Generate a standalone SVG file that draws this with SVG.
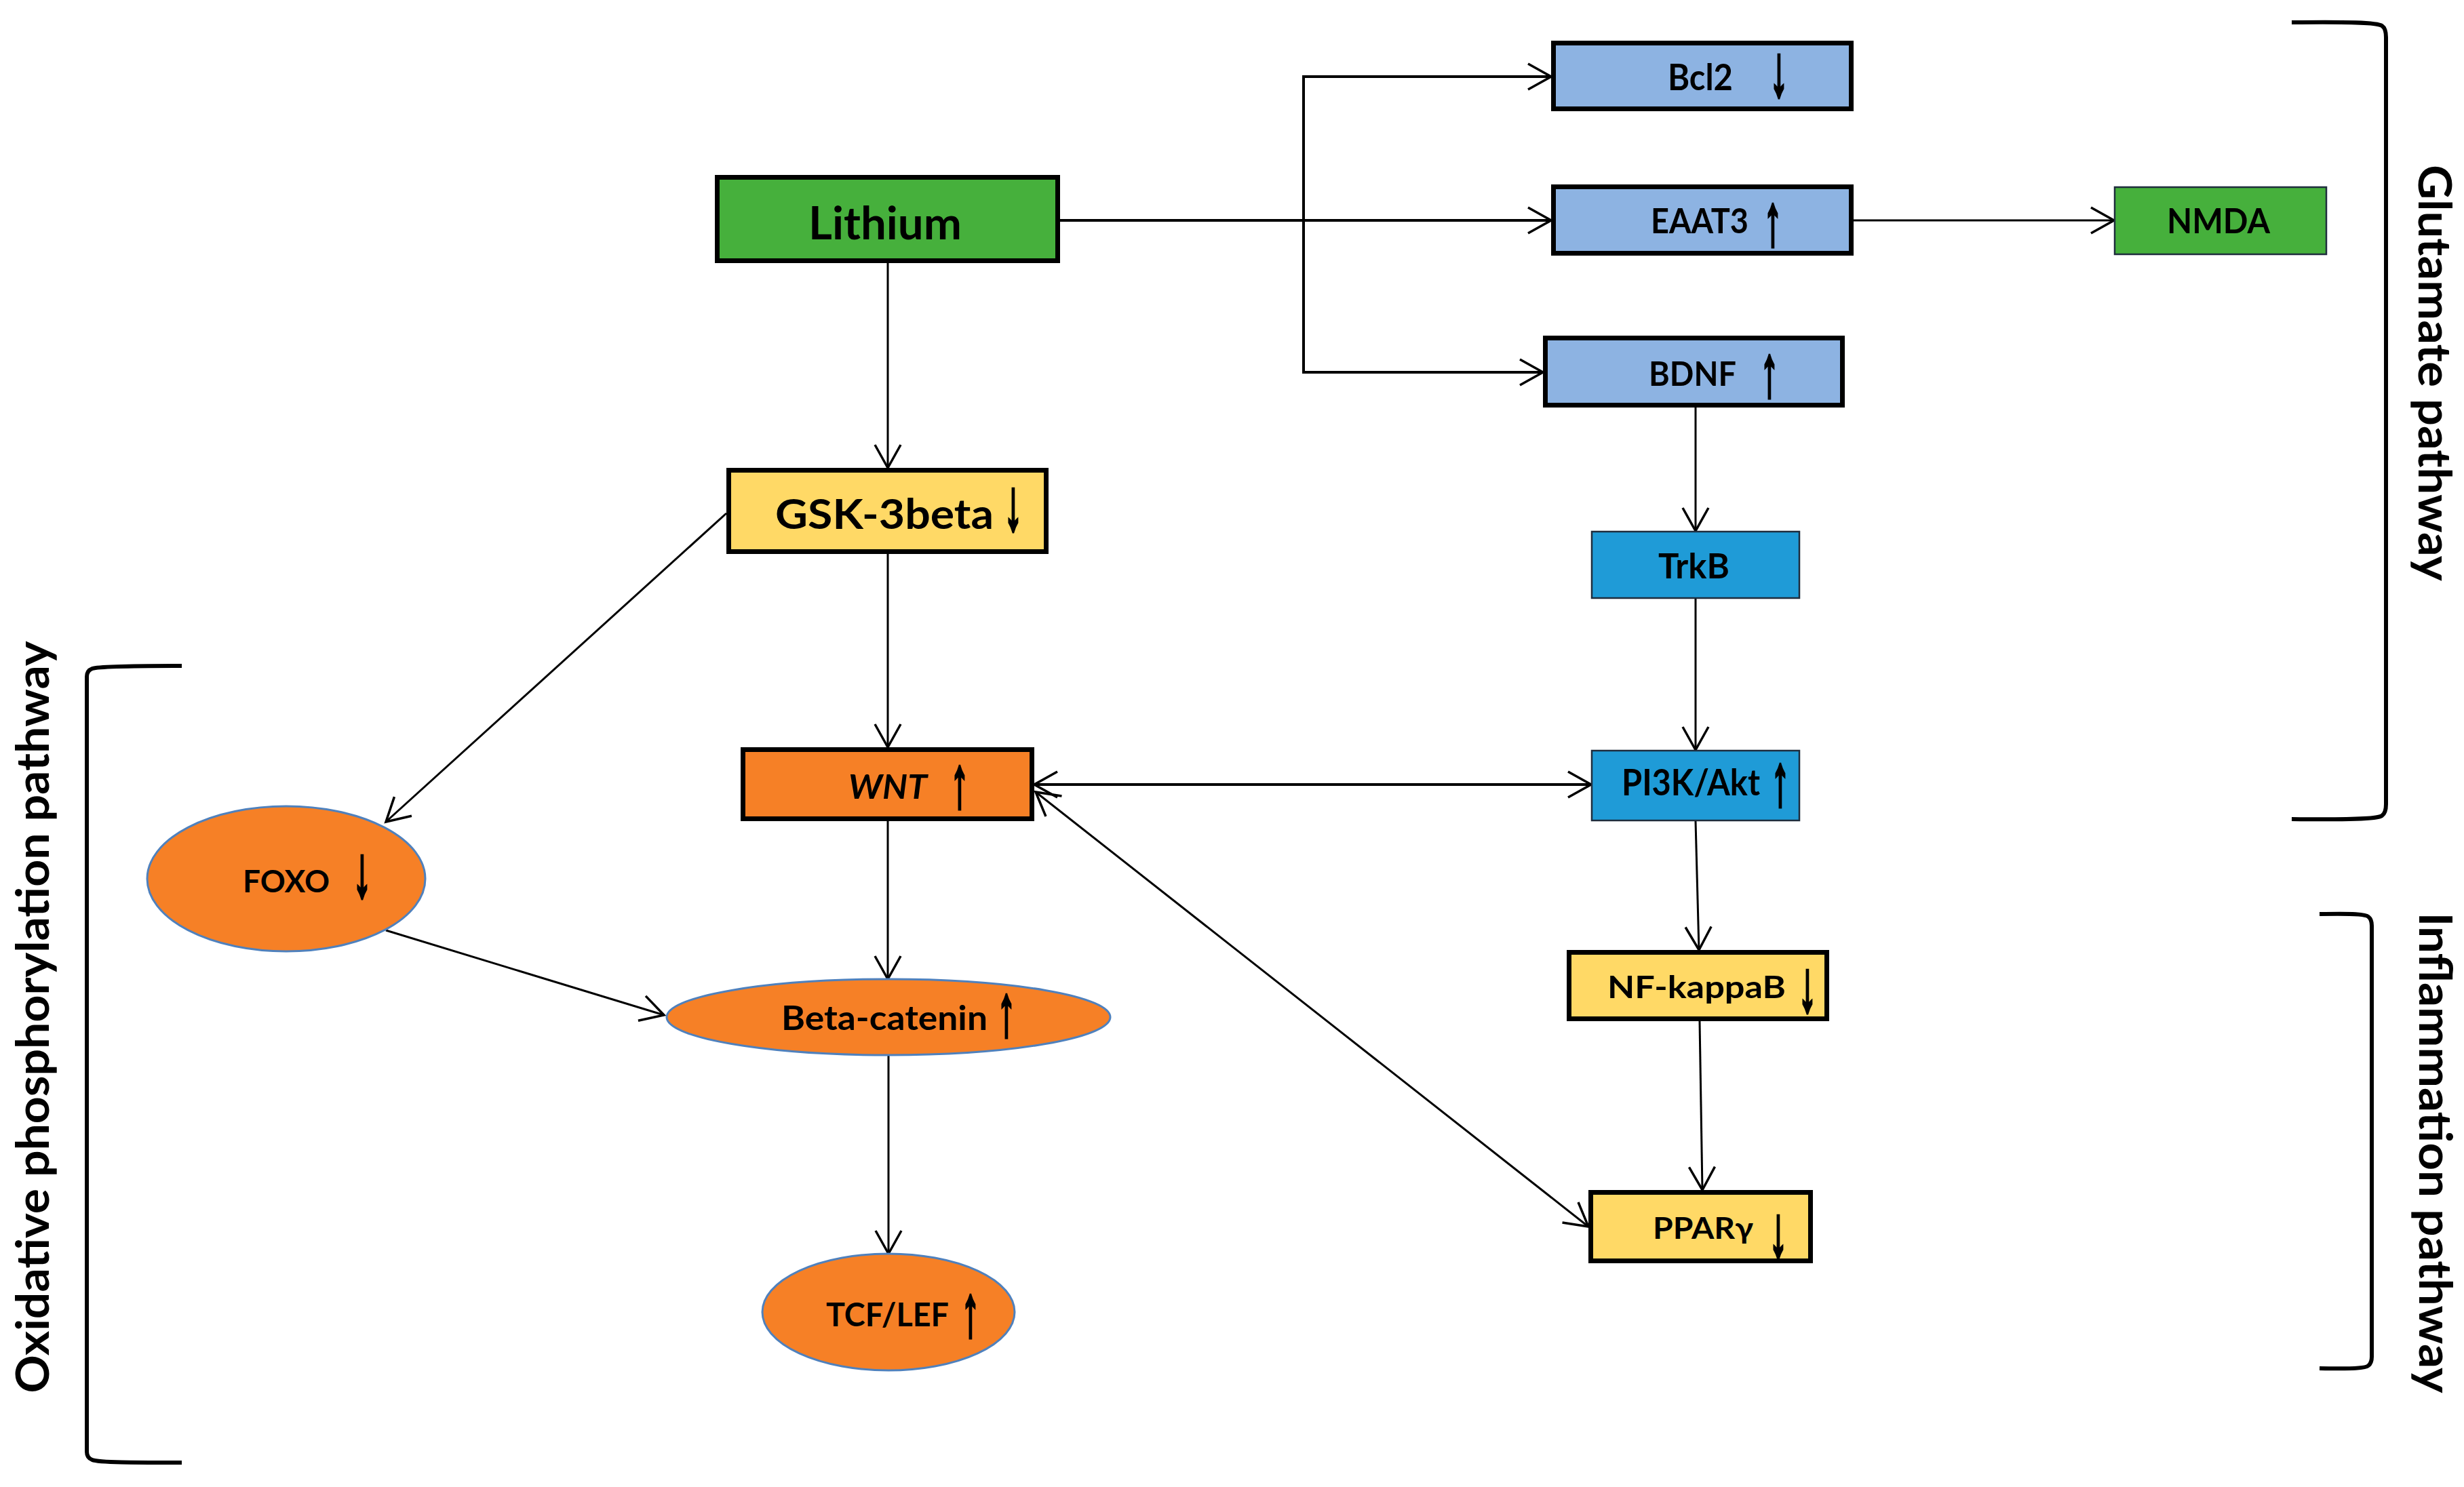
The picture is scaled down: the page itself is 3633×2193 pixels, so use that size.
<svg xmlns="http://www.w3.org/2000/svg" width="3633" height="2193" viewBox="0 0 3633 2193">
<style>
.thick{stroke:#000;stroke-width:7}
.thin{stroke:#1f2d3d;stroke-width:2.5}
.ell{stroke:#4f81bd;stroke-width:3}
.green{fill:#46b03c}
.lblue{fill:#8db3e2}
.dblue{fill:#1f9bd7}
.yellow{fill:#ffd966}
.orange{fill:#f68026}
.lbl{font-family:Lato,"Liberation Sans",sans-serif;font-weight:700;fill:#000;text-anchor:middle}
.arr{font-family:"Liberation Sans","DejaVu Sans",sans-serif;font-weight:700;fill:#000;stroke:#000;stroke-width:5;stroke-linejoin:miter;text-anchor:middle;dominant-baseline:central;font-size:106px}
.side{font-family:Lato,"Liberation Sans",sans-serif;font-weight:700;fill:#000;text-anchor:middle;font-size:66px}
.con{fill:none;stroke:#000;stroke-width:3;marker-end:url(#ah)}
.heavy{stroke-width:4}
.bi{marker-start:url(#ah)}
.br{fill:none;stroke:#000;stroke-width:6}
</style>
<defs>
<marker id="ah" viewBox="-40 -25 45 50" refX="0" refY="0" markerWidth="45" markerHeight="50" markerUnits="userSpaceOnUse" orient="auto-start-reverse">
<path d="M-34,-19 L0,0 L-34,19" fill="none" stroke="#000" stroke-width="3.5"/>
</marker>
</defs>
<rect width="3633" height="2193" fill="#fff"/>

<g id="connectors">
<path class="con heavy" d="M1563,325 H2287"/>
<path class="con heavy bi" d="M2287,113 H1922 V549 H2275"/>
<path class="con" d="M2733,325 H3117"/>
<path class="con" d="M1309,388 V690"/>
<path class="con" d="M1309,817 V1102"/>
<path class="con" d="M1071,757 L569,1212"/>
<path class="con" d="M1309,1211 V1444"/>
<path class="con" d="M569,1372 L979,1497"/>
<path class="con" d="M1310,1556 V1849"/>
<path class="con heavy bi" d="M1525,1157 H2346"/>
<path class="con bi" d="M1527,1168 L2342,1809"/>
<path class="con" d="M2500,601 V783"/>
<path class="con" d="M2500,883 V1106"/>
<path class="con" d="M2500,1211 L2505,1401"/>
<path class="con" d="M2506,1506 L2510,1755"/>
</g>

<g id="lithium">
<rect class="thick green" x="1057.5" y="261.5" width="502" height="123"/>
<text class="lbl" x="1305" y="353" font-size="66" textLength="226" lengthAdjust="spacingAndGlyphs">Lithium</text>
</g>
<g id="bcl2">
<rect class="thick lblue" x="2290.5" y="63.5" width="439" height="97"/>
<text class="lbl" x="2507" y="133" font-size="53" textLength="96" lengthAdjust="spacingAndGlyphs">Bcl2</text>
<text class="arr" transform="translate(2623,104) scale(0.5,1)">↓</text>
</g>
<g id="eaat3">
<rect class="thick lblue" x="2290.5" y="275.5" width="439" height="98"/>
<text class="lbl" x="2506" y="344" font-size="51" textLength="144" lengthAdjust="spacingAndGlyphs">EAAT3</text>
<text class="arr" transform="translate(2614,324) scale(0.5,1)">↑</text>
</g>
<g id="bdnf">
<rect class="thick lblue" x="2278.5" y="498.5" width="438" height="99"/>
<text class="lbl" x="2495.5" y="569" font-size="50" textLength="129" lengthAdjust="spacingAndGlyphs">BDNF</text>
<text class="arr" transform="translate(2609,547) scale(0.5,1)">↑</text>
</g>
<g id="nmda">
<rect class="thin green" x="3118" y="276" width="312" height="99"/>
<text class="lbl" x="3271" y="344" font-size="52" textLength="152" lengthAdjust="spacingAndGlyphs">NMDA</text>
</g>
<g id="trkb">
<rect class="thin dblue" x="2347" y="784" width="306" height="98"/>
<text class="lbl" x="2497.5" y="853" font-size="52" textLength="105" lengthAdjust="spacingAndGlyphs">TrkB</text>
</g>
<g id="pi3k">
<rect class="thin dblue" x="2347" y="1107" width="306" height="103"/>
<text class="lbl" x="2493" y="1173" font-size="54" textLength="204" lengthAdjust="spacingAndGlyphs">PI3K/Akt</text>
<text class="arr" transform="translate(2625,1150) scale(0.5,1)">↑</text>
</g>
<g id="gsk3beta">
<rect class="thick yellow" x="1074.5" y="693.5" width="468" height="120"/>
<text class="lbl" x="1304" y="780" font-size="62" textLength="322" lengthAdjust="spacingAndGlyphs">GSK-3beta</text>
<text class="arr" transform="translate(1494,744) scale(0.5,1)">↓</text>
</g>
<g id="wnt">
<rect class="thick orange" x="1095.5" y="1105.5" width="426" height="102"/>
<text class="lbl" x="1309" y="1178" font-size="50" font-style="italic" textLength="116" lengthAdjust="spacingAndGlyphs">WNT</text>
<text class="arr" transform="translate(1415,1153) scale(0.5,1)">↑</text>
</g>
<g id="foxo">
<ellipse class="ell orange" cx="422" cy="1296" rx="205" ry="107"/>
<text class="lbl" x="422" y="1316" font-size="46" textLength="128" lengthAdjust="spacingAndGlyphs">FOXO</text>
<text class="arr" transform="translate(534,1285) scale(0.5,1)">↓</text>
</g>
<g id="beta-catenin">
<ellipse class="ell orange" cx="1310" cy="1500" rx="327" ry="56"/>
<text class="lbl" x="1304" y="1519" font-size="49" textLength="304" lengthAdjust="spacingAndGlyphs">Beta-catenin</text>
<text class="arr" transform="translate(1484,1490) scale(0.5,1)">↑</text>
</g>
<g id="tcf-lef">
<ellipse class="ell orange" cx="1310" cy="1935" rx="186" ry="86"/>
<text class="lbl" x="1308.5" y="1956" font-size="47" textLength="181" lengthAdjust="spacingAndGlyphs">TCF/LEF</text>
<text class="arr" transform="translate(1431,1933) scale(0.5,1)">↑</text>
</g>
<g id="nf-kappab">
<rect class="thick yellow" x="2313.5" y="1404.5" width="380" height="98"/>
<text class="lbl" x="2501.5" y="1472" font-size="46" textLength="263" lengthAdjust="spacingAndGlyphs">NF-kappaB</text>
<text class="arr" transform="translate(2665,1454) scale(0.5,1)">↓</text>
</g>
<g id="ppargamma">
<rect class="thick yellow" x="2345.5" y="1758.5" width="324" height="101"/>
<text class="lbl" x="2511" y="1827" font-size="44" textLength="148" lengthAdjust="spacingAndGlyphs">PPARγ</text>
<text class="arr" transform="translate(2622,1816) scale(0.5,1)">↓</text>
</g>

<g id="glutamate-bracket">
<path class="br" d="M3379,33 C3460,32 3505,33 3512,38 Q3518,42 3518,55 L3518,1186 Q3518,1199 3512,1203 C3505,1208 3460,1209 3379,1208"/>
<text class="side" transform="translate(3566,550) rotate(90)" textLength="614" lengthAdjust="spacingAndGlyphs">Glutamate pathway</text>
</g>
<g id="inflammation-bracket">
<path class="br" d="M3420,1348 C3470,1347 3488,1348 3492,1352 Q3497,1356 3497,1365 L3497,2001 Q3497,2010 3492,2014 C3488,2018 3470,2019 3420,2018"/>
<text class="side" transform="translate(3567,1700) rotate(90)" textLength="709" lengthAdjust="spacingAndGlyphs">Inflammation pathway</text>
</g>
<g id="oxidative-bracket">
<path class="br" d="M268,982 C200,982 145,983 136,986 Q128,989 128,998 L128,2141 Q128,2150 136,2153 C145,2157 200,2157 268,2157"/>
<text class="side" transform="translate(72,1500) rotate(-90)" font-size="70" textLength="1109" lengthAdjust="spacingAndGlyphs">Oxidative phosphorylation pathway</text>
</g>
</svg>
